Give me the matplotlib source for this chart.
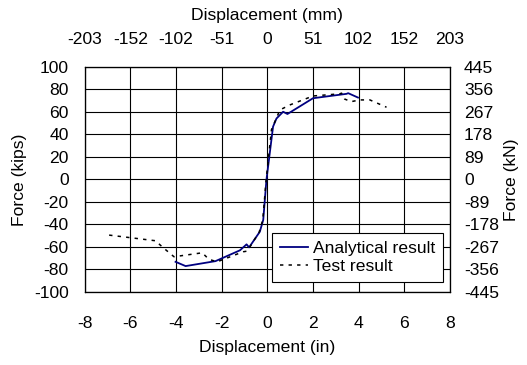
import matplotlib
matplotlib.use("Agg")
import matplotlib.pyplot as plt

plt.rcParams["font.family"] = ["Liberation Sans", "DejaVu Sans"]
plt.rcParams["axes.unicode_minus"] = False
FS = 12.6

# Analytical result (displacement in inches, force in kips)
analytical_x = [-4.02, -3.58, -2.27, -1.2, -0.91, -0.80, -0.33, -0.18, -0.04, 0.25, 0.40,
                0.69, 0.88, 2.0, 3.47, 3.54, 3.97]
analytical_y = [-73.2, -77.0, -72.6, -63.0, -57.7, -60.4, -46.5, -36.0, -0.5, 46.8, 54.0,
                60.0, 58.0, 72.0, 75.9, 76.5, 72.6]

# Test result
test_x = [-6.93, -4.9, -4.6, -4.09, -2.85, -2.56, -2.2, -1.06, -0.88, -0.36, -0.2, -0.06,
          0.18, 0.55, 0.98, 2.0, 3.17, 3.25, 3.39, 3.68, 4.05, 4.49, 5.22]
test_y = [-49.5, -54.5, -60.0, -68.7, -65.2, -71.0, -73.2, -64.3, -63.7, -47.0, -36.0, -2.0,
          44.0, 61.6, 66.0, 74.0, 75.9, 76.5, 71.2, 69.0, 70.5, 70.5, 64.0]

x_ticks = [-8, -6, -4, -2, 0, 2, 4, 6, 8]
mm_labels = ["-203", "-152", "-102", "-51", "0", "51", "102", "152", "203"]
y_ticks = [-100, -80, -60, -40, -20, 0, 20, 40, 60, 80, 100]
kn_labels = ["-445", "-356", "-267", "-178", "-89", "0", "89", "178", "267", "356", "445"]

fig = plt.figure(figsize=(5.27, 3.65), dpi=100)
ax = fig.add_axes([0.1607, 0.2, 0.6932, 0.6173])

ax.plot(analytical_x, analytical_y, color="#000080", lw=1.3, label="Analytical result", zorder=3)
ax.plot(test_x, test_y, color="black", lw=1.1, linestyle=(0, (2.2, 3.4)), label="Test result", zorder=3)

ax.set_xlim(-8, 8)
ax.set_ylim(-100, 100)
ax.set_xticks(x_ticks)
ax.set_yticks(y_ticks)
ax.grid(True, color="black", lw=0.8)
ax.set_axisbelow(True)
for s in ax.spines.values():
    s.set_color("black")
    s.set_linewidth(0.8)
ax.tick_params(axis="x", length=0, pad=17.5, labelsize=FS)
ax.tick_params(axis="y", length=0, pad=11.5, labelsize=FS)
ax.set_xlabel("Displacement (in)", fontsize=FS, labelpad=6)
ax.set_ylabel("Force (kips)", fontsize=FS, labelpad=5)

axt = ax.twiny()
axt.set_xlim(ax.get_xlim())
axt.set_xticks(x_ticks)
axt.set_xticklabels(mm_labels)
axt.tick_params(axis="x", length=0, pad=14, labelsize=FS)
axt.set_xlabel("Displacement (mm)", fontsize=FS, labelpad=9)

axr = ax.twinx()
axr.set_ylim(ax.get_ylim())
axr.set_yticks(y_ticks)
axr.set_yticklabels(kn_labels)
axr.tick_params(axis="y", length=0, pad=10, labelsize=FS)
axr.set_ylabel("Force (kN)", fontsize=FS, labelpad=4)

leg = ax.legend(loc="lower right", bbox_to_anchor=(0.981, 0.046), borderaxespad=0,
                fontsize=FS, frameon=True, fancybox=False, framealpha=1,
                edgecolor="black", handlelength=1.6, handletextpad=0.3,
                labelspacing=0.15, borderpad=0.45)
leg.get_frame().set_linewidth(0.8)
leg.set_zorder(5)

fig.savefig("out.png", dpi=100)
